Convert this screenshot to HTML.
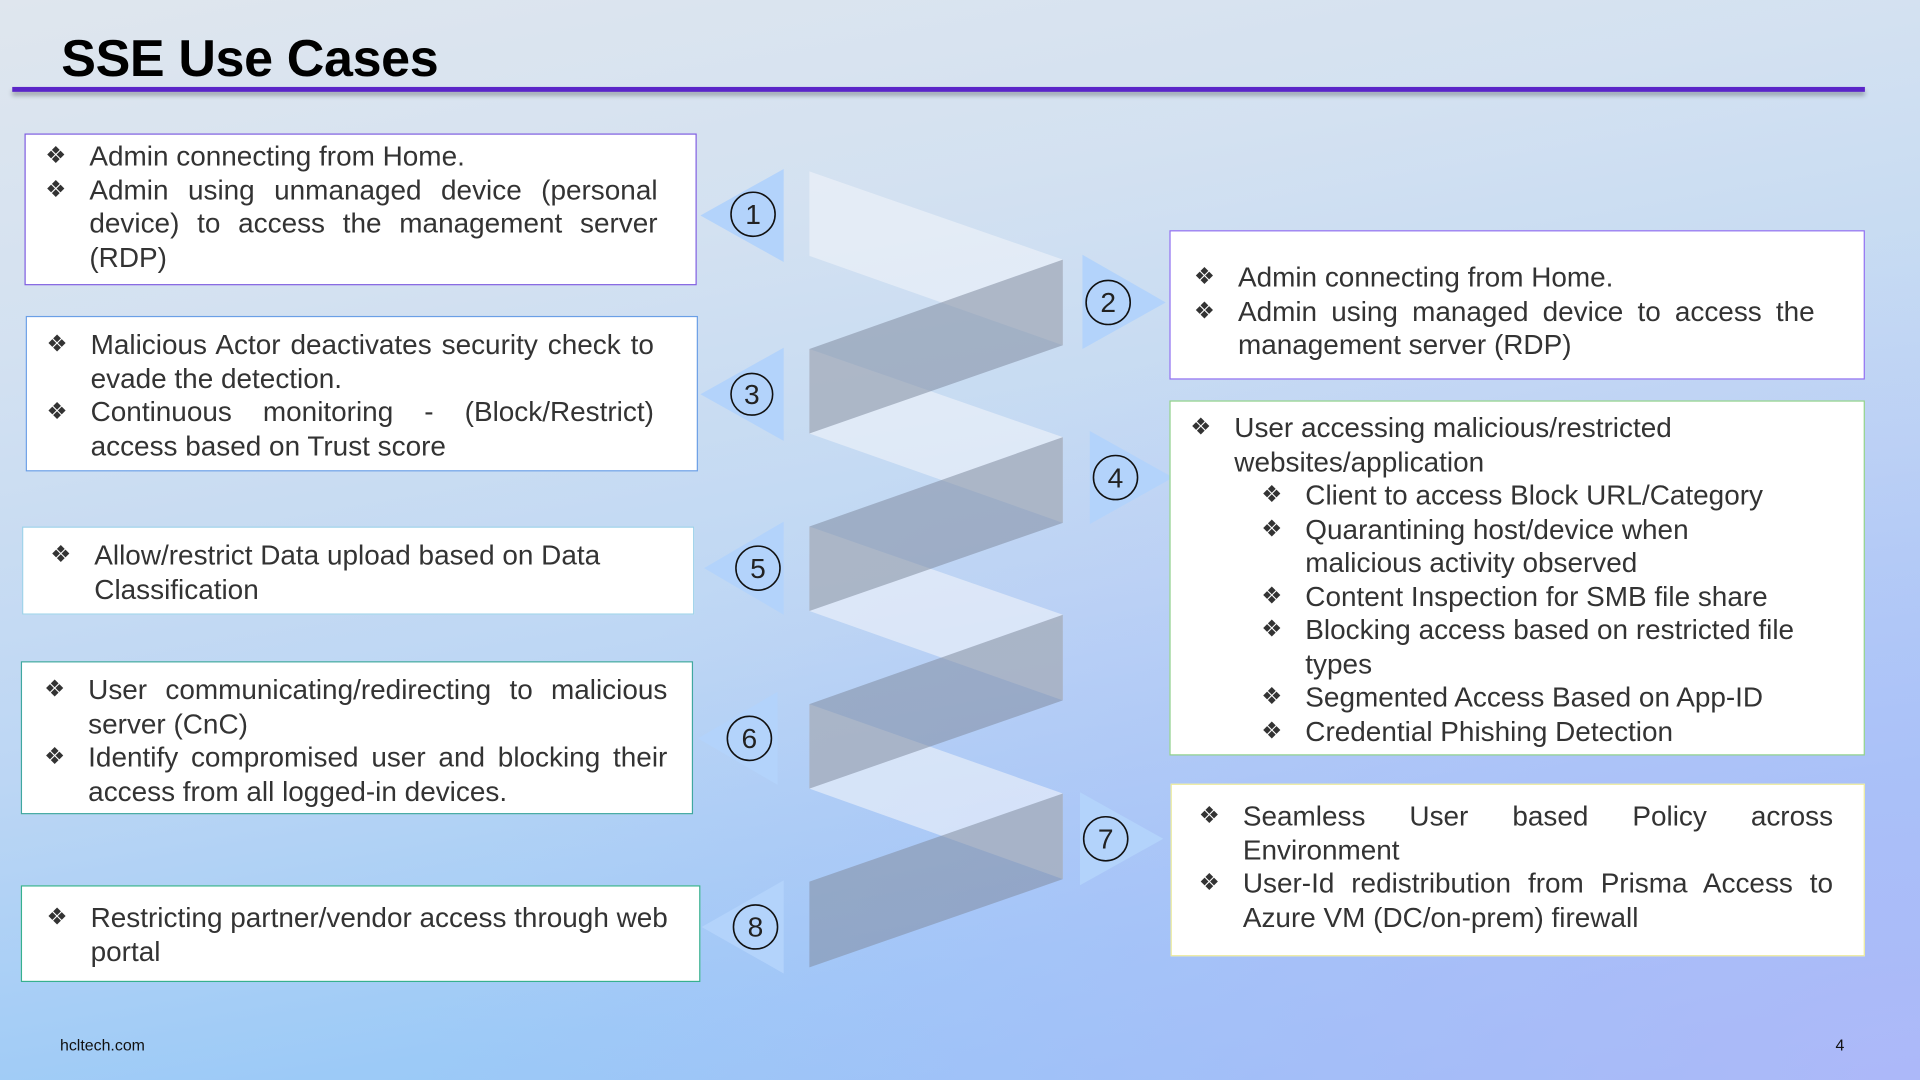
<!DOCTYPE html>
<html><head><meta charset="utf-8"><style>
html,body{margin:0;padding:0;width:1920px;height:1080px;overflow:hidden;}
body{background:linear-gradient(170deg,#dfe6ee 0%,#d3e1f1 25%,#bcd6f4 55%,#9ccaf7 80%,#8fc2f6 100%);}
#bgr{position:absolute;left:0;top:0;width:1920px;height:1080px;background:radial-gradient(ellipse at 100% 100%,rgba(185,180,250,0.7) 0%,rgba(185,180,250,0) 55%);}
#s{position:absolute;left:0;top:0;width:1568px;height:882px;transform:scale(1.22449);transform-origin:0 0;font-family:"Liberation Sans",Arial,sans-serif;color:#333;}
h1{position:absolute;left:50px;top:25px;margin:0;font-size:42.5px;font-weight:bold;color:#000;letter-spacing:-0.3px;}
.line{position:absolute;left:10px;top:71px;width:1513px;height:4px;background:#5a25c8;box-shadow:0 3px 4px rgba(0,0,0,0.3);}
.box{position:absolute;background:#fff;box-sizing:border-box;font-size:22.8px;line-height:27.5px;}
.box ul{margin:0;padding:0;list-style:none;}
.box li{position:relative;padding-left:52px;text-align:justify;}
.box li:before{content:"❖";position:absolute;left:16px;top:0;font-size:19px;color:#333;}
.box li.sub{padding-left:110px;text-align:left;}
.box li.sub:before{left:74px;}
.ft{position:absolute;font-size:13px;color:#111;top:846px;}
</style></head><body><div id="bgr"></div>
<div id="s">
<h1>SSE Use Cases</h1>
<div class="line"></div>
<svg width="1568" height="882" style="position:absolute;left:0;top:0">
<g fill="#b3d3fb">
<polygon points="572,176 640,138 640,214"/>
<polygon points="572,322 640,284 640,360"/>
<polygon points="575,464 640,426 640,502"/>
<polygon points="570,603 635,565 635,641"/>
<polygon points="573,757 640,719 640,795"/>
<polygon points="952,247 884,208 884,285"/>
<polygon points="958,390 890,352 890,428"/>
<polygon points="950,685 882,647 882,723"/>
</g>
<g fill="rgba(240,244,250,0.6)">
<polygon points="661,140 868,212 868,282 661,209"/>
<polygon points="661,285 868,357 868,427 661,354"/>
<polygon points="661,430 868,502 868,572 661,499"/>
<polygon points="661,575 868,648 868,718 661,644"/>
</g>
<g fill="rgba(130,140,160,0.55)">
<polygon points="661,285 868,212 868,282 661,354"/>
<polygon points="661,430 868,357 868,427 661,499"/>
<polygon points="661,575 868,502 868,572 661,644"/>
<polygon points="661,720 868,648 868,718 661,790"/>
</g>
<g fill="none" stroke="#111" stroke-width="1.3">
<circle cx="615" cy="175" r="18"/><circle cx="905" cy="247" r="18"/>
<circle cx="614" cy="322" r="17"/><circle cx="911" cy="390" r="18"/>
<circle cx="619" cy="464" r="18"/><circle cx="612" cy="603" r="18"/>
<circle cx="903" cy="685" r="18"/><circle cx="617" cy="757" r="18"/>
</g>
<g font-family="Liberation Sans, sans-serif" font-size="23" fill="#222" text-anchor="middle">
<text x="615" y="183">1</text><text x="905" y="255">2</text>
<text x="614" y="330">3</text><text x="911" y="398">4</text>
<text x="619" y="472">5</text><text x="612" y="611">6</text>
<text x="903" y="693">7</text><text x="617" y="765">8</text>
</g>
</svg>
<div class="box" style="left:20px;top:109px;width:549px;height:124px;border:1px solid #7f5fe0;padding:4px 31px 0 0;">
<ul><li>Admin connecting from Home.</li><li>Admin using unmanaged device (personal device) to access the management server (RDP)</li></ul></div>
<div class="box" style="left:21px;top:258px;width:549px;height:127px;border:1px solid #6a9fe6;padding:9px 35px 0 0;">
<ul><li>Malicious Actor deactivates security check to evade the detection.</li><li>Continuous monitoring - (Block/Restrict) access based on Trust score</li></ul></div>
<div class="box" style="left:18px;top:430px;width:549px;height:72px;border:1px solid #9fd2ea;padding:9px 35px 0 6px;">
<ul><li style="text-align:left">Allow/restrict Data upload based on Data Classification</li></ul></div>
<div class="box" style="left:17px;top:540px;width:549px;height:125px;border:1px solid #3fa7a0;padding:9px 20px 0 2px;">
<ul><li>User communicating/redirecting to malicious server (CnC)</li><li>Identify compromised user and blocking their access from all logged-in devices.</li></ul></div>
<div class="box" style="left:17px;top:723px;width:555px;height:79px;border:1px solid #36b08f;padding:12px 20px 0 4px;">
<ul><li style="text-align:left">Restricting partner/vendor access through web portal</li></ul></div>
<div class="box" style="left:955px;top:188px;width:568px;height:122px;border:1px solid #8f6ff0;padding:24px 40px 0 3px;">
<ul><li>Admin connecting from Home.</li><li>Admin using managed device to access the management server (RDP)</li></ul></div>
<div class="box" style="left:955px;top:327px;width:568px;height:290px;border:1px solid #8fd08a;padding:8px 55px 0 0;">
<ul><li style="text-align:left">User accessing malicious/restricted websites/application</li>
<li class="sub">Client to access Block URL/Category</li>
<li class="sub">Quarantining host/device when malicious activity observed</li>
<li class="sub">Content Inspection for SMB file share</li>
<li class="sub">Blocking access based on restricted file types</li>
<li class="sub">Segmented Access Based on App-ID</li>
<li class="sub">Credential Phishing Detection</li></ul></div>
<div class="box" style="left:956px;top:640px;width:567px;height:141px;border:1px solid #ecea9c;padding:12px 25px 0 6px;">
<ul><li>Seamless User based Policy across Environment</li><li>User-Id redistribution from Prisma Access to Azure VM (DC/on-prem) firewall</li></ul></div>
<div class="ft" style="left:49px">hcltech.com</div>
<div class="ft" style="left:1499px">4</div>
</div>
</body></html>
